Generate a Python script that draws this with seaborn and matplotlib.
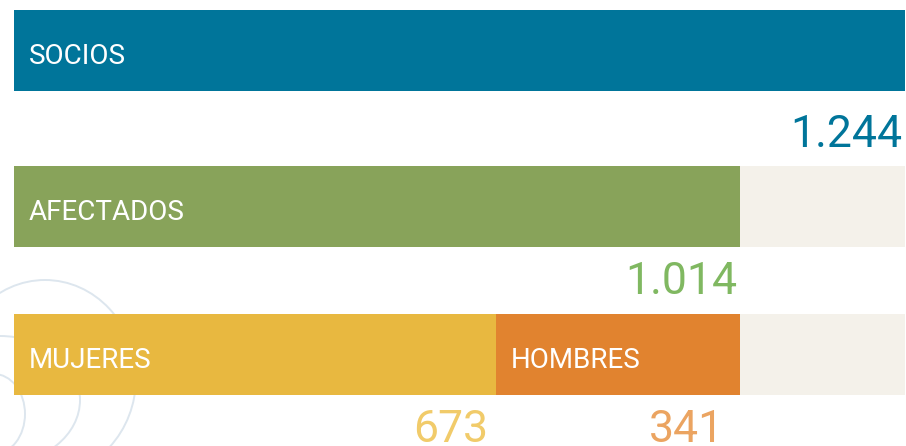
import numpy as np
import pandas as pd
import seaborn as sns
import matplotlib.pyplot as plt
from matplotlib.patches import Ellipse

# datos
total_socios = 1244
afectados = 1014
mujeres = 673
hombres = 341
etiquetas = ['SOCIOS', 'AFECTADOS', 'MUJERES', 'HOMBRES']
textos_valor = ['1.244', '1.014', '673', '341']

# colores
c_socios = '#00759A'
c_afect = '#88A35A'
c_muj = '#E8B840'
c_hom = '#E1832F'
c_fondo = '#F4F1EA'
c_txt_afect = '#80B861'
c_txt_muj = '#F1CB6A'
c_txt_hom = '#EBA461'

sns.set_style('white')
plt.rcParams['font.family'] = ['Roboto', 'DejaVu Sans']

W, H = 906, 446
fig = plt.figure(figsize=(W / 100, H / 100), dpi=100)

# curvas decorativas de fondo
deco = fig.add_axes([0, 0, 1, 1], zorder=0)
deco.set_xlim(0, W)
deco.set_ylim(H, 0)
deco.axis('off')
for cx, cy, w, h in [(45, 378, 182, 196), (0, 400, 160, 128), (-6, 414, 62, 80)]:
    deco.add_patch(Ellipse((cx, cy), w, h, fill=False, edgecolor='#DDE6EE', lw=1.4))


def fila(top, bottom):
    ax = fig.add_axes([14 / W, 1 - bottom / H, (905 - 14) / W, (bottom - top) / H], zorder=1)
    ax.patch.set_alpha(0)
    return ax


def barra(ax, valor, color):
    df = pd.DataFrame({'valor': [valor], 'fila': [0]})
    sns.barplot(data=df, x='valor', y='fila', orient='h', color=color, saturation=1,
                width=1, linewidth=0, ax=ax)


def limpiar(ax):
    ax.set_xlim(0, total_socios)
    ax.set_ylim(0.5, -0.5)
    ax.set_xlabel('')
    ax.set_ylabel('')
    ax.set_xticks([])
    ax.set_yticks([])
    for s in ax.spines.values():
        s.set_visible(False)


def etiqueta(ax, x, texto):
    ax.annotate(texto, xy=(x, 0), xycoords=('data', 'axes fraction'), xytext=(15, 27),
                textcoords='offset pixels', ha='left', va='baseline', color='white', fontsize=20)


def numero(ax, x, texto, color, dx, dy):
    ax.annotate(texto, xy=(x, 0), xycoords=('data', 'axes fraction'), xytext=(dx, dy),
                textcoords='offset pixels', ha='right', va='baseline', color=color,
                fontsize=32, annotation_clip=False)


# fila 1: socios
ax1 = fila(10, 90.7)
barra(ax1, total_socios, c_socios)
limpiar(ax1)
etiqueta(ax1, 0, etiquetas[0])
numero(ax1, total_socios, textos_valor[0], c_socios, -3, -56)

# fila 2: afectados
ax2 = fila(166, 246.7)
barra(ax2, total_socios, c_fondo)
barra(ax2, afectados, c_afect)
limpiar(ax2)
etiqueta(ax2, 0, etiquetas[1])
numero(ax2, afectados, textos_valor[1], c_txt_afect, -3, -47)

# fila 3: mujeres / hombres (apilado)
ax3 = fila(314, 395)
barra(ax3, total_socios, c_fondo)
barra(ax3, mujeres + hombres, c_hom)
barra(ax3, mujeres, c_muj)
limpiar(ax3)
etiqueta(ax3, 0, etiquetas[2])
etiqueta(ax3, mujeres, etiquetas[3])
numero(ax3, mujeres, textos_valor[2], c_txt_muj, -8, -47)
numero(ax3, mujeres + hombres, textos_valor[3], c_txt_hom, -16, -47)

fig.savefig('out.png', dpi=100)
